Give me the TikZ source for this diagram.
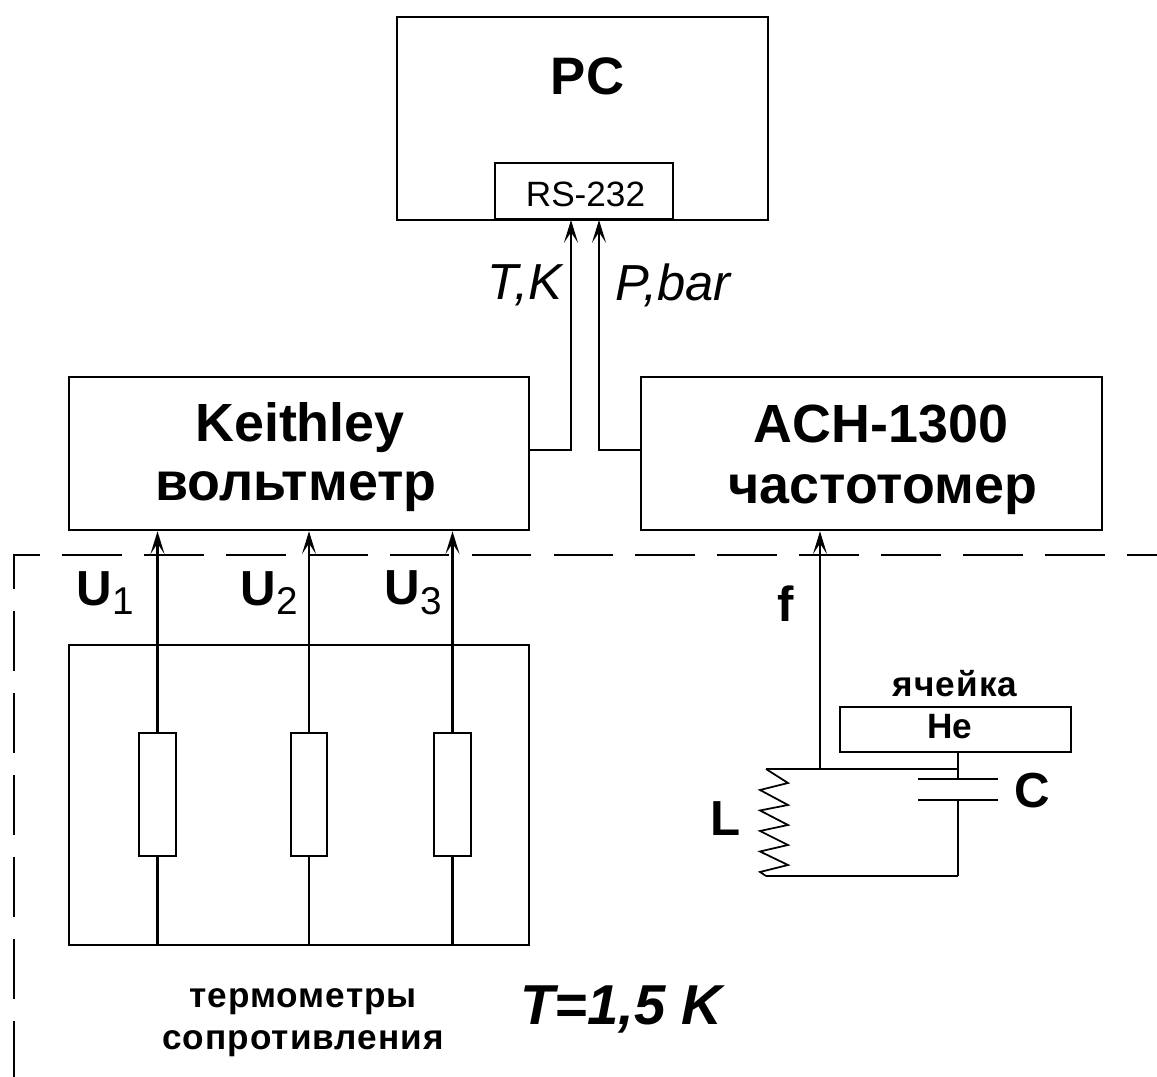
\documentclass[tikz,border=0pt]{standalone}
\usepackage{fontspec}
\setmainfont{Liberation Sans}
\usetikzlibrary{arrows.meta}
\tikzset{
  box/.style={draw,line width=.7pt,inner sep=0pt,minimum width=#1},
  wire/.style={line width=.65pt},
  arrowwire/.style={wire,-{Stealth[length=6.5pt,width=4pt,inset=3pt]}},
  bigtext/.style={inner sep=0pt,font=\fontsize{15.3}{17}\selectfont\bfseries},
  letterlabel/.style={inner sep=0pt,font=\fontsize{14}{17}\selectfont\bfseries},
  midtext/.style={inner sep=0pt,font=\fontsize{10}{13}\selectfont},
  datatext/.style={inner sep=0pt,font=\fontsize{14.4}{17}\selectfont\itshape},
  smalltext/.style={inner sep=0pt,font=\fontsize{10}{12}\selectfont\bfseries\addfontfeatures{LetterSpace=3},align=center}
}
\begin{document}
\begin{tikzpicture}[x=0.01cm,y=-0.01cm]
  \useasboundingbox (0,0) rectangle (1157,1077);
  % boxes
  \node[box=3.71cm,minimum height=2.03cm] (pc) at (582.5,118.5) {};
  \node[box=1.78cm,minimum height=.56cm] (rs) at (584,191) {};
  \node[box=4.6cm,minimum height=1.53cm] (keithley) at (299,453.5) {};
  \node[box=4.61cm,minimum height=1.53cm] (ach) at (871.5,453.5) {};
  \node[box=4.6cm,minimum height=3cm] (therm) at (299,795) {};
  \node[box=.37cm,minimum height=1.23cm] (r1) at (157.5,794.5) {};
  \node[box=.36cm,minimum height=1.23cm] (r2) at (309,794.5) {};
  \node[box=.37cm,minimum height=1.23cm] (r3) at (452.5,794.5) {};
  \node[box=2.31cm,minimum height=.45cm] (cell) at (955.5,729.5) {};
  % labels
  \node[letterlabel] (pclabel) at (587.5,76) {\fontsize{15}{17}\selectfont PC};
  \node[midtext] (rslabel) at (585.5,194) {RS-232};
  \node[bigtext] (keithleylabel) at (300,428) {Keithley};
  \node[bigtext] (voltlabel) at (296,492) {вольтметр};
  \node[bigtext] (achlabel) at (881,424) {ACH-1300};
  \node[bigtext] (freqlabel) at (883,495) {частотомер};
  \node[datatext] (tklabel) at (525,285) {T,K};
  \node[datatext] (plabel) at (673,285) {P,bar};
  \node[letterlabel] (u1) at (106,593) {U\textsubscript{\fontsize{11}{11}\selectfont\mdseries 1}};
  \node[letterlabel] (u2) at (270,593) {U\textsubscript{\fontsize{11}{11}\selectfont\mdseries 2}};
  \node[letterlabel] (u3) at (414,593) {U\textsubscript{\fontsize{11}{11}\selectfont\mdseries 3}};
  \node[letterlabel] (flabel) at (786,604) {f};
  \node[smalltext] (celllabel) at (955,684) {ячейка};
  \node[midtext,font=\fontsize{10}{11}\selectfont\bfseries] (helabel) at (950,727) {He};
  \node[letterlabel] (clabel) at (1032,791) {C};
  \node[letterlabel] (llabel) at (726,819) {L};
  \node[smalltext] (thermlabel) at (303,1023) {термометры\\сопротивления};
  \node[inner sep=0pt,font=\fontsize{16}{17}\selectfont\bfseries\itshape] (templabel) at (621,1010) {T=1,5 K};
  % thermometer wires
  \draw[arrowwire] (r1.north) -- (r1.north |- keithley.south);
  \draw[arrowwire] (r2.north) -- (r2.north |- keithley.south);
  \draw[arrowwire] (r3.north) -- (r3.north |- keithley.south);
  \draw[wire] (r1.south) -- (r1.south |- therm.south);
  \draw[wire] (r2.south) -- (r2.south |- therm.south);
  \draw[wire] (r3.south) -- (r3.south |- therm.south);
  % data lines
  \coordinate (tk) at (571,220);
  \coordinate (pb) at (599,220);
  \draw[arrowwire] ([yshift=.035cm]keithley.east) -| (tk);
  \draw[arrowwire] ([yshift=.035cm]ach.west) -| (pb);
  % LC circuit
  \coordinate (coiltop) at (766,769);
  \coordinate (coilbot) at (766,876);
  \coordinate (jtop) at (958,769);
  \coordinate (jbot) at (958,876);
  \coordinate (tap) at (820,769);
  \coordinate (plateup) at (958,779);
  \coordinate (platedn) at (958,800);
  \draw[wire] (coiltop) -- (jtop);
  \draw[wire] (jbot) -- (coilbot);
  \draw[arrowwire] (tap) -- (tap |- ach.south);
  \draw[wire] (plateup |- cell.south) -- (plateup);
  \draw[wire] (platedn) -- (jbot);
  \draw[wire] (918,779) -- (998,779);
  \draw[wire] (918,800) -- (998,800);
  \draw[line width=.5pt] (coiltop) -- (788,783)
    \foreach \zig in {0,...,3} { -- (760,790+20.5*\zig) -- (788,805+20*\zig) }
    -- (760,872) -- (coilbot);
  % cold zone
  \draw[line width=.6pt,dash pattern=on 17pt off 6.3pt,dash phase=8.5pt] (1157,555) -- (14,555) -- (14,1077);
\end{tikzpicture}
\end{document}
